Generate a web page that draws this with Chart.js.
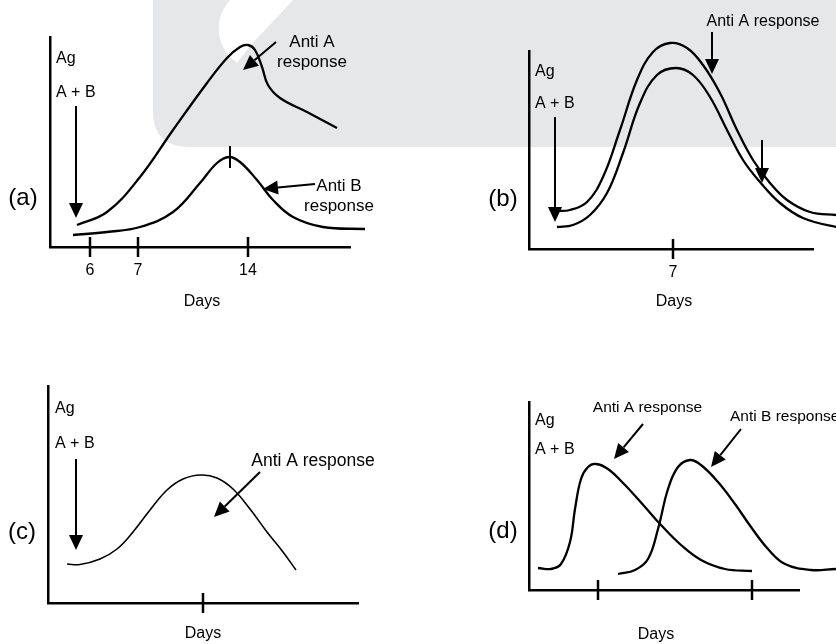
<!DOCTYPE html>
<html>
<head>
<meta charset="utf-8">
<script src="https://cdn.jsdelivr.net/npm/chart.js@4.4.1/dist/chart.umd.min.js"></script>
<style>
  html, body { margin: 0; padding: 0; background: #fff; }
  #wrap { position: relative; width: 836px; height: 644px; overflow: hidden; }
  #wrap svg, #wrap canvas { position: absolute; left: 0; top: 0; }
</style>
</head>
<body>
<div id="wrap">
  <svg width="836" height="644">
    <path d="M153,0 H836 V147 H190 Q153,147 153,112 Z" fill="#e6e7e9"/>
    <path d="M230,0 C214,18 214,46 237,63 L250,46 L293,0 Z" fill="#fff"/>
  </svg>
  <canvas id="chartA" width="836" height="644"></canvas>
  <canvas id="chartB" width="836" height="644"></canvas>
  <canvas id="chartC" width="836" height="644"></canvas>
  <canvas id="chartD" width="836" height="644"></canvas>
</div>
<script>
// valores (unidades arbitrarias: tempo no eixo x, resposta no eixo y)

// (a)
const aAntiAx = [2.7, 5.7, 9.0, 12.3, 15.7, 17.7, 19.0, 19.8, 20.5, 21.2, 21.8, 23.0, 25.7, 28.7];
const aAntiAy = [2.2, 3.5, 7.0, 11.7, 16.4, 18.9, 20.0, 20.2, 19.7, 18.0, 16.2, 14.9, 13.5, 11.9];
const aAntiBx = [2.3, 5.7, 9.0, 12.3, 15.0, 16.7, 17.9, 19.0, 20.7, 22.3, 24.3, 27.3, 31.5];
const aAntiBy = [1.2, 1.5, 2.0, 3.5, 6.4, 8.4, 9.0, 8.5, 6.7, 4.7, 3.0, 2.0, 1.8];
const aTickPos = [4.0, 8.8, 19.8];
const aTickLabels = ['6', '7', '14'];

// (b)
const bUpperX = [2.6, 4.1, 5.8, 7.4, 9.1, 10.8, 12.4, 14.1, 15.8, 17.4, 19.1, 20.8, 22.4, 24.1, 25.8, 28.1, 30.7, 32.0];
const bUpperY = [3.8, 3.9, 4.7, 7.2, 11.9, 16.9, 19.7, 20.6, 20.1, 18.4, 15.6, 11.9, 8.9, 6.6, 4.9, 3.7, 3.4, 3.3];
const bLowerX = [2.8, 4.4, 6.1, 7.8, 9.4, 11.1, 12.8, 14.7, 16.4, 18.1, 19.8, 21.4, 23.1, 25.1, 27.4, 30.7, 32.0];
const bLowerY = [2.2, 2.4, 3.4, 5.6, 9.6, 14.6, 17.4, 18.1, 17.4, 15.2, 11.9, 8.9, 6.7, 4.6, 3.1, 2.2, 2.1];
const bTickPos = [14.4];
const bTickLabels = ['7'];

// (c)
const cAntiAx = [1.9, 3.2, 5.2, 6.9, 8.5, 10.2, 11.9, 13.5, 15.3, 16.9, 18.5, 20.2, 21.9, 23.5, 24.8];
const cAntiAy = [3.9, 3.85, 4.4, 5.4, 7.1, 9.3, 11.3, 12.4, 12.8, 12.5, 11.4, 9.4, 7.1, 5.1, 3.3];
const cTickPos = [15.5];
const cTickLabels = [''];

// (d)
const dAntiAx = [0.9, 2.2, 3.2, 4.1, 4.6, 5.2, 5.9, 6.7, 7.9, 9.6, 11.6, 13.2, 15.2, 17.2, 19.6, 22.3];
const dAntiAy = [2.2, 2.1, 2.6, 4.8, 8.1, 11.1, 12.3, 12.6, 12.1, 10.5, 8.3, 6.5, 4.5, 3.0, 2.1, 1.9];
const dAntiBx = [8.9, 10.6, 11.9, 12.9, 13.9, 14.9, 16.1, 17.2, 18.9, 20.6, 22.2, 23.9, 25.6, 28.2, 30.7, 31.5];
const dAntiBy = [1.6, 2.0, 3.1, 6.1, 10.1, 12.3, 13.0, 12.5, 10.8, 8.6, 6.3, 4.1, 2.6, 2.0, 2.1, 2.1];
const dTickPos = [6.9, 22.3];
const dTickLabels = ['', ''];

Chart.defaults.font.family = '"Liberation Sans", Arial, Helvetica, sans-serif';
Chart.defaults.font.size = 16;
Chart.defaults.color = '#000';

function pontos(xs, ys) {
    return xs.map((x, i) => ({ x: x, y: ys[i] }));
}

function curva(xs, ys, largura) {
    return {
        data: pontos(xs, ys),
        borderColor: '#000',
        borderWidth: largura,
        pointRadius: 0,
        fill: false,
        tension: 0.4,
        capBezierPoints: false,
        clip: false
    };
}

function seta(ctx, x1, y1, x2, y2) {
    const ang = Math.atan2(y2 - y1, x2 - x1);
    const comp = 15, meia = 7;
    const bx = x2 - comp * Math.cos(ang), by = y2 - comp * Math.sin(ang);
    ctx.beginPath();
    ctx.moveTo(x1, y1);
    ctx.lineTo(bx, by);
    ctx.lineWidth = 2;
    ctx.stroke();
    ctx.beginPath();
    ctx.moveTo(x2, y2);
    ctx.lineTo(bx + meia * Math.sin(ang), by - meia * Math.cos(ang));
    ctx.lineTo(bx - meia * Math.sin(ang), by + meia * Math.cos(ang));
    ctx.closePath();
    ctx.fill();
}

// textos, setas e tracinhos do eixo, posicionados pelas escalas do grafico
const notasPlugin = {
    id: 'notas',
    afterDraw(chart, args, opts) {
        const ctx = chart.ctx;
        const sx = chart.scales.x, sy = chart.scales.y;
        const px = v => sx.getPixelForValue(v);
        const py = v => sy.getPixelForValue(v);
        ctx.save();
        ctx.strokeStyle = '#000';
        ctx.fillStyle = '#000';
        ctx.lineCap = 'butt';

        const base = chart.chartArea.bottom;
        (opts.ticks || []).forEach(t => {
            ctx.beginPath();
            ctx.moveTo(px(t), base - 10);
            ctx.lineTo(px(t), base + 10);
            ctx.lineWidth = 2.5;
            ctx.stroke();
        });

        (opts.marks || []).forEach(m => {
            ctx.beginPath();
            ctx.moveTo(px(m[0]), py(m[1]));
            ctx.lineTo(px(m[2]), py(m[3]));
            ctx.lineWidth = 2;
            ctx.stroke();
        });

        (opts.arrows || []).forEach(a => {
            seta(ctx, px(a[0]), py(a[1]), px(a[2]), py(a[3]));
        });

        ctx.textBaseline = 'middle';
        (opts.texts || []).forEach(t => {
            ctx.font = t[4] + 'px "Liberation Sans", Arial, sans-serif';
            ctx.textAlign = t[3];
            ctx.fillText(t[0], px(t[1]), py(t[2]));
        });
        ctx.restore();
    }
};

function montarGrafico(id, padding, xMax, yMax, datasets, tickPos, tickLabels, notas) {
    return new Chart(document.getElementById(id), {
        type: 'line',
        data: { datasets: datasets },
        options: {
            responsive: false,
            animation: false,
            devicePixelRatio: 1,
            layout: { padding: padding },
            plugins: {
                legend: { display: false },
                tooltip: { enabled: false },
                notas: Object.assign({ ticks: tickPos }, notas)
            },
            scales: {
                x: {
                    type: 'linear',
                    bounds: 'data',
                    // limites fixados aqui (e nao em min/max) para a curva poder passar do fim do eixo
                    afterDataLimits: axis => { axis.min = 0; axis.max = xMax; },
                    grid: { display: false, drawTicks: false },
                    border: { display: true, color: '#000', width: 2.5 },
                    afterBuildTicks: axis => { axis.ticks = tickPos.map(v => ({ value: v })); },
                    afterFit: axis => { axis.height = 30; },
                    ticks: {
                        autoSkip: false,
                        maxRotation: 0,
                        padding: 14,
                        color: '#000',
                        font: { size: 16 },
                        callback: (v, i) => tickLabels[i]
                    }
                },
                y: {
                    type: 'linear',
                    min: 0,
                    max: yMax,
                    grid: { display: false, drawTicks: false },
                    border: { display: true, color: '#000', width: 2.5 },
                    ticks: { display: false },
                    afterFit: axis => { axis.width = 0; }
                }
            }
        },
        plugins: [notasPlugin]
    });
}

montarGrafico('chartA', { left: 50, top: 37, right: 486, bottom: 367 }, 30, 21,
    [curva(aAntiAx, aAntiAy, 2.3), curva(aAntiBx, aAntiBy, 2.3)],
    aTickPos, aTickLabels, {
        texts: [
            ['Ag', 0.6, 18.8, 'left', 16],
            ['A + B', 0.6, 15.4, 'left', 16],
            ['(a)', -2.7, 4.9, 'center', 24],
            ['Anti A', 26.2, 20.5, 'center', 17],
            ['response', 26.2, 18.5, 'center', 17],
            ['Anti B', 28.9, 6.1, 'center', 17],
            ['response', 28.9, 4.1, 'center', 17],
            ['Days', 15.2, -5.5, 'center', 16]
        ],
        arrows: [[2.6, 14.1, 2.6, 2.9], [22.6, 20.5, 19.3, 17.7], [26.5, 6.3, 21.3, 5.8]],
        marks: [[18.0, 10.1, 18.0, 7.9]]
    });

montarGrafico('chartB', { left: 529, top: 51, right: 23, bottom: 365 }, 28.4, 19.8,
    [curva(bUpperX, bUpperY, 2.3), curva(bLowerX, bLowerY, 2.3)],
    bTickPos, bTickLabels, {
        texts: [
            ['Ag', 0.6, 17.7, 'left', 16],
            ['A + B', 0.6, 14.5, 'left', 16],
            ['(b)', -2.6, 5.0, 'center', 24],
            ['Anti A response', 23.4, 22.7, 'center', 16],
            ['Days', 14.5, -5.3, 'center', 16]
        ],
        arrows: [[2.6, 13.2, 2.6, 2.7], [18.3, 21.7, 18.3, 17.5], [23.3, 10.9, 23.3, 6.6]]
    });

montarGrafico('chartC', { left: 48, top: 386, right: 478, bottom: 11 }, 31, 21.7,
    [curva(cAntiAx, cAntiAy, 1.6)],
    cTickPos, cTickLabels, {
        texts: [
            ['Ag', 0.7, 19.4, 'left', 16],
            ['A + B', 0.7, 15.9, 'left', 16],
            ['(c)', -2.6, 7.1, 'center', 24],
            ['Anti A response', 26.5, 14.2, 'center', 17.5],
            ['Days', 15.5, -3.1, 'center', 16]
        ],
        arrows: [[2.8, 14.4, 2.8, 5.3], [21.2, 13.1, 16.6, 8.6]]
    });

montarGrafico('chartD', { left: 529, top: 402, right: 37, bottom: 24 }, 27, 18.8,
    [curva(dAntiAx, dAntiAy, 2.3), curva(dAntiBx, dAntiBy, 2.3)],
    dTickPos, dTickLabels, {
        texts: [
            ['Ag', 0.6, 16.9, 'left', 16],
            ['A + B', 0.6, 14.0, 'left', 16],
            ['(d)', -2.6, 5.9, 'center', 24],
            ['Anti A response', 11.85, 18.2, 'center', 15.5],
            ['Anti B response', 20.1, 17.3, 'left', 15.5],
            ['Days', 12.7, -4.5, 'center', 16]
        ],
        arrows: [[11.4, 16.6, 8.5, 13.1], [21.2, 16.1, 18.2, 12.3]]
    });
</script>
</body>
</html>
